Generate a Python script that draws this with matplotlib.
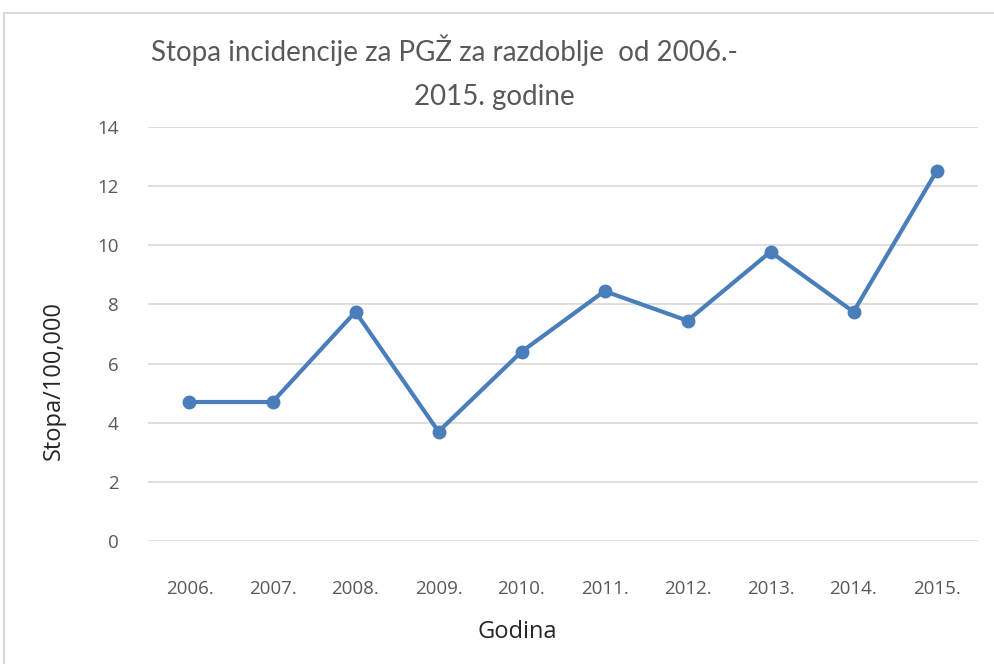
import matplotlib
matplotlib.use("Agg")
import matplotlib.pyplot as plt
from matplotlib.patches import Rectangle

# data
years = ["2006.", "2007.", "2008.", "2009.", "2010.", "2011.", "2012.", "2013.", "2014.", "2015."]
rates = [4.7, 4.7, 7.75, 3.7, 6.4, 8.45, 7.45, 9.78, 7.75, 12.5]
yticks = [0, 2, 4, 6, 8, 10, 12, 14]

plt.rcParams['font.family'] = ['Open Sans', 'DejaVu Sans']
TXT = "#595959"
GRID = "#D9D9D9"
BLUE = "#4A7EBB"

fig = plt.figure(figsize=(9.95, 6.64), dpi=100)
ax = fig.add_axes([148/995, 1 - 541/664, 830/995, 414/664])

# chart border
fig.patches.append(Rectangle((4/995, -0.05), 1.2, 1 - 13/664 + 0.05, transform=fig.transFigure,
                             fill=False, edgecolor=GRID, linewidth=1.5))

x = list(range(len(years)))
ax.plot(x, rates, color=BLUE, linewidth=3, marker="o", markersize=9, zorder=3)

ax.set_xlim(-0.5, len(years) - 0.5)
ax.set_ylim(0, 14)
ax.set_yticks(yticks)
ax.set_xticks(x)
ax.set_xticklabels(years)
ax.grid(axis="y", color=GRID, linewidth=1.2)
ax.set_axisbelow(True)
for s in ax.spines.values():
    s.set_visible(False)
ax.tick_params(length=0, labelsize=13.5, colors=TXT)
ax.tick_params(axis="x", pad=28)
ax.tick_params(axis="y", pad=21)

fig.text(517/995, 1 - 632/664, "Godina", ha="center", va="center", fontsize=17, color="#262626")
fig.text(54/995, 1 - 380/664, "Stopa/100,000", ha="center", va="center", rotation=90,
         fontsize=17, color="#262626")

fig.text(444/995, 1 - 50/664, "Stopa incidencije za PGŽ za razdoblje  od 2006.-", ha="center", va="center",
         fontsize=20, color=TXT, family=['Lato', 'DejaVu Sans'])
fig.text(494/995, 1 - 97/664, "2015. godine", ha="center", va="center", fontsize=20, color=TXT,
         family=['Lato', 'DejaVu Sans'])

fig.savefig("out.png", dpi=100)
